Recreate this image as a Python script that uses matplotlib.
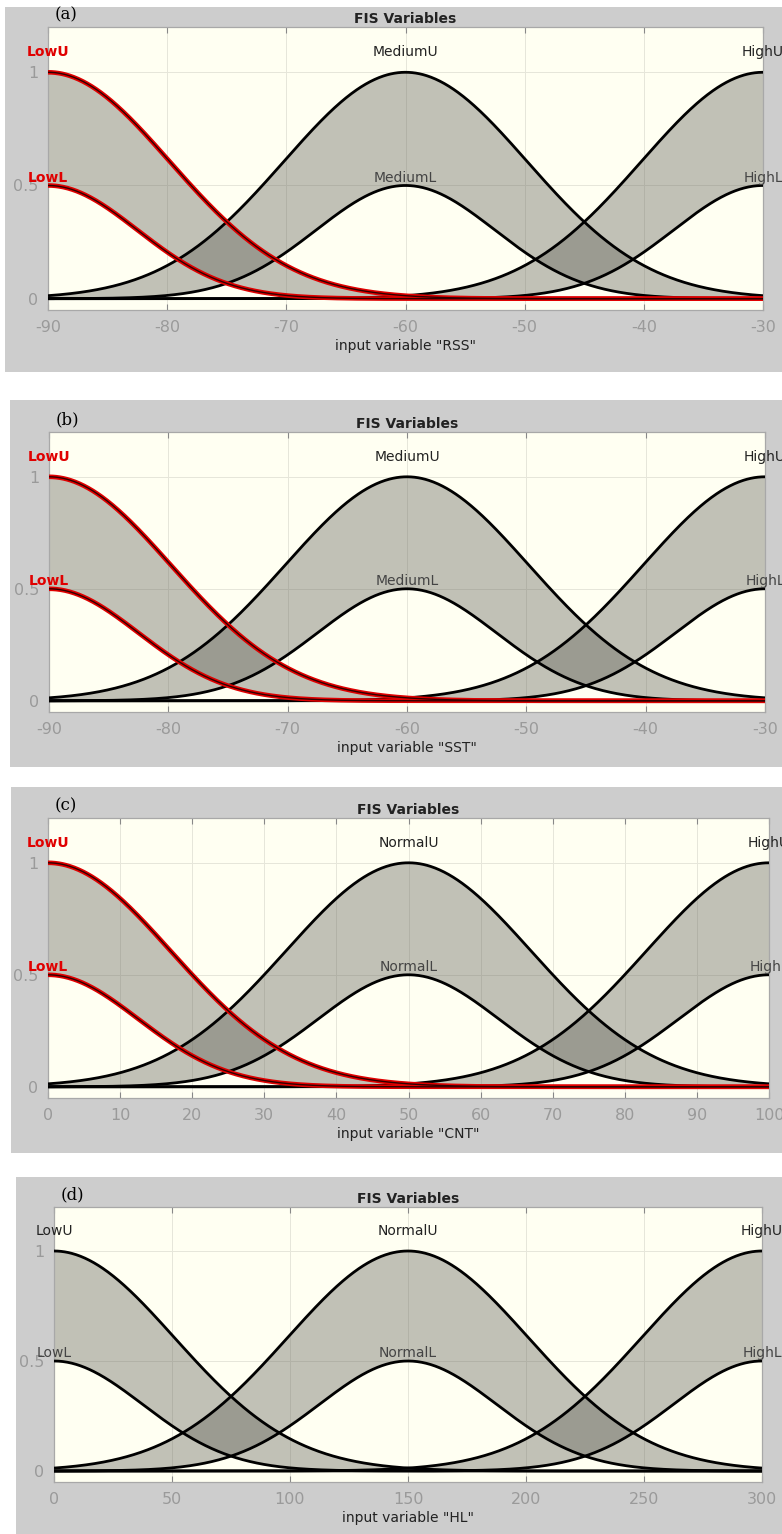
import numpy as np
import matplotlib
matplotlib.use("Agg")
import matplotlib.pyplot as plt
from matplotlib.patches import Rectangle

plt.rcParams['axes.unicode_minus'] = False
plt.rcParams['font.family'] = ['DejaVu Sans']

# ---------------- data ----------------
panel_tags = ["(a)", "(b)", "(c)", "(d)"]
var_names = ["RSS", "SST", "CNT", "HL"]
x_limits = [(-90, -30), (-90, -30), (0, 100), (0, 300)]
x_ticks = [
    [-90, -80, -70, -60, -50, -40, -30],
    [-90, -80, -70, -60, -50, -40, -30],
    [0, 10, 20, 30, 40, 50, 60, 70, 80, 90, 100],
    [0, 50, 100, 150, 200, 250, 300],
]
y_ticks = [0, 0.5, 1]
y_tick_labels = ["0", "0.5", "1"]
mf_names = [
    ["Low", "Medium", "High"],
    ["Low", "Medium", "High"],
    ["Low", "Normal", "High"],
    ["Low", "Normal", "High"],
]
mf_centers = [
    [-90, -60, -30],
    [-90, -60, -30],
    [0, 50, 100],
    [0, 150, 300],
]
upper_sigma = [10.2, 10.2, 17.0, 51.0]
lower_sigma = [7.5, 7.5, 12.5, 37.5]
upper_scale = 1.0
lower_scale = 0.5
highlighted = [0, 0, 0, None]

# ---------------- layout (pixels) ----------------
W, H = 782, 1534
frames = [(5, 7, 782, 372), (10, 400, 782, 767), (11, 787, 782, 1153), (16, 1177, 782, 1534)]
axes_px = [(48, 27, 763, 310), (49, 432, 765, 712), (48, 818, 769, 1098), (54, 1207, 762, 1482)]

fig = plt.figure(figsize=(W / 100, H / 100), dpi=100)
fig.patch.set_facecolor("white")

fill_col = (0.38, 0.38, 0.35)
tick_col = "#9a9a9a"


def gauss(x, c, s, k):
    return k * np.exp(-((x - c) ** 2) / (2 * s ** 2))


for p in range(4):
    fx0, fy0, fx1, fy1 = frames[p]
    fig.patches.append(Rectangle((fx0 / W, 1 - fy1 / H), (fx1 - fx0) / W, (fy1 - fy0) / H,
                                 transform=fig.transFigure, facecolor="#cdcdcd",
                                 edgecolor="none", zorder=-10))
    l, t, r, b = axes_px[p]
    ax = fig.add_axes([l / W, 1 - b / H, (r - l) / W, (b - t) / H])
    ax.set_zorder(5)
    ax.set_facecolor("#fffff2")
    lo, hi = x_limits[p]
    ax.set_xlim(lo, hi)
    ax.set_ylim(-0.05, 1.2)
    x = np.linspace(lo, hi, 800)

    for i, c in enumerate(mf_centers[p]):
        up = gauss(x, c, upper_sigma[p], upper_scale)
        lw_ = gauss(x, c, lower_sigma[p], lower_scale)
        ax.fill_between(x, lw_, up, color=fill_col, alpha=0.39, lw=0, zorder=2)
    for i, c in enumerate(mf_centers[p]):
        up = gauss(x, c, upper_sigma[p], upper_scale)
        lw_ = gauss(x, c, lower_sigma[p], lower_scale)
        if highlighted[p] == i:
            for yy in (up, lw_):
                ax.plot(x, yy, color="#e00000", lw=3.3, zorder=5, solid_capstyle="butt")
                ax.plot(x, yy, color="#300000", lw=1.0, zorder=6, solid_capstyle="butt")
            lab_col, lab_w = "#e00000", "bold"
        else:
            for yy in (up, lw_):
                ax.plot(x, yy, color="black", lw=2.0, zorder=4, solid_capstyle="butt")
            lab_col, lab_w = "#222222", "normal"
        ax.text(c, 1.09, mf_names[p][i] + "U", ha="center", va="center", fontsize=10,
                color=lab_col, fontweight=lab_w, clip_on=False, zorder=7)
        ax.text(c, 0.535, mf_names[p][i] + "L", ha="center", va="center", fontsize=10,
                color=lab_col if highlighted[p] == i else "#444444", fontweight=lab_w,
                clip_on=False, zorder=7)

    ax.set_xticks(x_ticks[p])
    ax.set_xticklabels([str(v) for v in x_ticks[p]])
    ax.set_yticks(y_ticks)
    ax.set_yticklabels(y_tick_labels)
    ax.tick_params(axis="both", direction="in", length=4, width=0.8, color="#888888",
                   labelcolor=tick_col, labelsize=11.5, top=True, right=False)
    ax.tick_params(axis="x", pad=7)
    ax.tick_params(axis="y", pad=7)
    ax.grid(True, color="#e6e6da", lw=0.7, zorder=1)
    ax.set_axisbelow(True)
    for sp in ax.spines.values():
        sp.set_color("#a8a8a8")
        sp.set_linewidth(0.9)
    ax.set_title("FIS Variables", fontsize=10, fontweight="bold", color="#222222", pad=3)
    ax.set_xlabel('input variable "%s"' % var_names[p], fontsize=10, color="#222222", labelpad=3)

    fig.text((l + 7) / W, 1 - (t - 12) / H, panel_tags[p], family="DejaVu Serif",
             fontsize=12, ha="left", va="center", color="black", zorder=10)

fig.savefig("out.png", dpi=100)
